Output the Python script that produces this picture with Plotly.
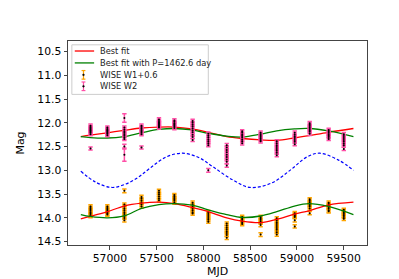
import plotly.graph_objects as go

# ---- observation epochs (MJD) ----
epochs = [56793, 56973, 57155, 57338, 57525, 57690, 57885, 58053,
          58250, 58415, 58612, 58785, 58977, 59137, 59340, 59502]

# ---- WISE W2 magnitudes per epoch ----
w2_mags = [
    [12.06, 12.09, 12.11, 12.13, 12.15, 12.17, 12.19, 12.21, 12.24],
    [12.10, 12.13, 12.15, 12.17, 12.19, 12.21, 12.23, 12.26],
    [12.10, 12.14, 12.18, 12.21, 12.24, 12.27, 12.31, 12.34],
    [12.06, 12.09, 12.12, 12.15, 12.18, 12.21, 12.24],
    [11.93, 11.96, 11.99, 12.01, 12.03, 12.05, 12.08, 12.10],
    [11.95, 11.98, 12.01, 12.03, 12.05, 12.08, 12.11],
    [11.96, 12.00, 12.04, 12.08, 12.12, 12.16, 12.20, 12.25, 12.30, 12.36],
    [12.23, 12.27, 12.31, 12.35, 12.39, 12.43, 12.47],
    [12.47, 12.52, 12.57, 12.62, 12.67, 12.72, 12.77, 12.82, 12.90],
    [12.18, 12.21, 12.25, 12.28, 12.31, 12.35, 12.39, 12.43],
    [12.21, 12.24, 12.27, 12.30, 12.33, 12.36, 12.39],
    [12.39, 12.43, 12.47, 12.51, 12.55, 12.59, 12.63, 12.68],
    [12.21, 12.25, 12.29, 12.32, 12.36, 12.40, 12.45],
    [12.01, 12.04, 12.07, 12.10, 12.13, 12.16, 12.19, 12.23],
    [12.15, 12.18, 12.21, 12.24, 12.27, 12.30, 12.34],
    [12.24, 12.28, 12.32, 12.36, 12.40, 12.44, 12.48, 12.55],
]
w2_err_typ = 0.035
w2_out_mjd = [56793, 57155, 57155, 57155, 57338, 58053]
w2_out_mag = [12.54, 11.90, 12.50, 12.67, 12.52, 13.00]
w2_out_err = [0.03, 0.09, 0.05, 0.14, 0.03, 0.04]

# ---- WISE W1 + 0.6 magnitudes per epoch ----
w1_mags = [
    [13.76, 13.79, 13.82, 13.85, 13.88, 13.91, 13.94, 13.96],
    [13.76, 13.79, 13.82, 13.85, 13.88, 13.91, 13.93],
    [13.72, 13.76, 13.80, 13.84, 13.88, 13.92, 13.96, 14.00, 14.05],
    [13.56, 13.60, 13.64, 13.68, 13.72, 13.76],
    [13.43, 13.47, 13.51, 13.55, 13.59, 13.63],
    [13.52, 13.55, 13.58, 13.61, 13.64, 13.68],
    [13.68, 13.72, 13.76, 13.80, 13.84, 13.88, 13.91],
    [13.88, 13.92, 13.96, 14.00, 14.04, 14.08],
    [14.12, 14.16, 14.20, 14.24, 14.28, 14.32, 14.36, 14.42],
    [13.98, 14.01, 14.04, 14.07, 14.10, 14.13],
    [13.98, 14.01, 14.04, 14.07, 14.10, 14.15],
    [14.01, 14.05, 14.09, 14.13, 14.17, 14.21, 14.25, 14.30, 14.35],
    [13.90, 13.92, 13.94, 13.96, 13.98, 14.05, 14.18],
    [13.61, 13.64, 13.67, 13.70, 13.73, 13.76, 13.80, 13.90],
    [13.68, 13.71, 13.74, 13.77, 13.80, 13.84, 13.86],
    [13.83, 13.86, 13.89, 13.92, 13.95, 13.98, 14.02],
]
w1_err_typ = 0.035
w1_out_mjd = [57155, 58612]
w1_out_mag = [13.43, 14.35]
w1_out_err = [0.04, 0.04]

# ---- model curves ----
curve_mjd = [56689, 56790, 56973, 57152, 57339, 57525, 57690, 57877, 58053,
             58250, 58416, 58613, 58785, 58974, 59129, 59336, 59605]
red_w2 = [12.29, 12.26, 12.21, 12.16, 12.11, 12.09, 12.09, 12.13, 12.20,
          12.29, 12.33, 12.36, 12.37, 12.32, 12.27, 12.20, 12.12]
green_w2 = [12.29, 12.31, 12.32, 12.29, 12.21, 12.14, 12.12, 12.15, 12.22,
            12.28, 12.30, 12.24, 12.17, 12.13, 12.12, 12.17, 12.29]
red_w1 = [14.02, 13.97, 13.87, 13.75, 13.69, 13.67, 13.70, 13.78, 13.87,
          14.00, 14.07, 14.10, 14.03, 13.92, 13.85, 13.73, 13.67]
green_w1 = [13.93, 13.97, 14.00, 13.96, 13.80, 13.72, 13.70, 13.73, 13.83,
            13.93, 13.99, 13.96, 13.87, 13.75, 13.70, 13.76, 13.93]

blue_mjd = [56689, 56850, 57018, 57155, 57300, 57432, 57600, 57776, 57950,
            58105, 58312, 58500, 58726, 58933, 59106, 59244, 59451, 59607]
blue_mag = [13.02, 13.25, 13.36, 13.30, 13.15, 12.95, 12.72, 12.64, 12.73,
            12.93, 13.20, 13.36, 13.27, 12.99, 12.72, 12.64, 12.79, 13.00]

x_ticks = [57000, 57500, 58000, 58500, 59000, 59500]
y_ticks = [10.5, 11.0, 11.5, 12.0, 12.5, 13.0, 13.5, 14.0, 14.5]

legend_labels = ["Best fit", "Best fit with P=1462.6 day", "WISE W1+0.6", "WISE W2"]

W1_COLOR = "#ffa500"
W2_COLOR = "#ff4fa7"

# plot-area geometry in pixels (for the hand-made legend)
FIG_W, FIG_H = 399, 279
ML, MR, MT, MB = 50, 40, 33, 32
PW, PH = FIG_W - ML - MR, FIG_H - MT - MB


def px(xp):
    return (xp - ML) / PW


def py(yp):
    return (FIG_H - MB - yp) / PH


def flatten(ep, mags, err, omjd, omag, oerr):
    xs, ys, es = [], [], []
    for e, ms in zip(ep, mags):
        for m in ms:
            xs.append(e); ys.append(m); es.append(err)
    xs += omjd; ys += omag; es += oerr
    return xs, ys, es


fig = go.Figure()

fig.add_trace(go.Scatter(x=curve_mjd, y=red_w2, mode="lines", line_shape="spline",
                         line=dict(color="red", width=1.3)))
fig.add_trace(go.Scatter(x=curve_mjd, y=green_w2, mode="lines", line_shape="spline",
                         line=dict(color="green", width=1.3)))

w1x, w1y, w1e = flatten(epochs, w1_mags, w1_err_typ, w1_out_mjd, w1_out_mag, w1_out_err)
fig.add_trace(go.Scatter(x=w1x, y=w1y, mode="markers",
                         marker=dict(color="black", size=2),
                         error_y=dict(type="data", array=w1e, color=W1_COLOR,
                                      thickness=1.5, width=2.2)))
w2x, w2y, w2e = flatten(epochs, w2_mags, w2_err_typ, w2_out_mjd, w2_out_mag, w2_out_err)
fig.add_trace(go.Scatter(x=w2x, y=w2y, mode="markers",
                         marker=dict(color="black", size=2),
                         error_y=dict(type="data", array=w2e, color=W2_COLOR,
                                      thickness=1.5, width=2.2)))

fig.add_trace(go.Scatter(x=curve_mjd, y=red_w1, mode="lines", line_shape="spline",
                         line=dict(color="red", width=1.3)))
fig.add_trace(go.Scatter(x=curve_mjd, y=green_w1, mode="lines", line_shape="spline",
                         line=dict(color="green", width=1.3)))
fig.add_trace(go.Scatter(x=blue_mjd, y=blue_mag, mode="lines", line_shape="spline",
                         line=dict(color="blue", width=1.2, dash="3px,2px")))

# ---- hand-made legend (matplotlib-like compact layout) ----
shapes = [dict(type="rect", xref="paper", yref="paper",
               x0=px(54), x1=px(195), y0=py(89), y1=py(37),
               line=dict(color="#cccccc", width=1), fillcolor="rgba(255,255,255,0.8)",
               layer="above")]
row_y = [43.5, 56.0, 68.5, 80.5]
for yy, col in zip(row_y[:2], ["red", "green"]):
    shapes.append(dict(type="line", xref="paper", yref="paper",
                       x0=px(57), x1=px(77), y0=py(yy), y1=py(yy),
                       line=dict(color=col, width=1.3), layer="above"))
for yy, col in zip(row_y[2:], [W1_COLOR, W2_COLOR]):
    shapes.append(dict(type="line", xref="paper", yref="paper",
                       x0=px(66), x1=px(66), y0=py(yy - 4.5), y1=py(yy + 4.5),
                       line=dict(color=col, width=1.2), layer="above"))
    for cap in (yy - 4.5, yy + 4.5):
        shapes.append(dict(type="line", xref="paper", yref="paper",
                           x0=px(64), x1=px(68), y0=py(cap), y1=py(cap),
                           line=dict(color=col, width=1.2), layer="above"))
    shapes.append(dict(type="circle", xref="paper", yref="paper",
                       x0=px(65.1), x1=px(66.9), y0=py(yy + 0.9), y1=py(yy - 0.9),
                       line=dict(color="black", width=0.5), fillcolor="black",
                       layer="above"))

annotations = [dict(text=lab, xref="paper", yref="paper", x=px(81), y=py(yy),
                    xanchor="left", yanchor="middle", showarrow=False,
                    font=dict(size=8.3, color="#222"))
               for lab, yy in zip(legend_labels, row_y)]

axis_common = dict(showline=True, linecolor="#444", linewidth=1, mirror=True,
                   ticks="outside", ticklen=3.5, tickcolor="#444", showgrid=False,
                   zeroline=False, tickfont=dict(size=10.8, color="black"))

fig.update_layout(
    width=FIG_W, height=FIG_H,
    margin=dict(l=ML, r=MR, t=MT, b=MB),
    paper_bgcolor="white", plot_bgcolor="white",
    font=dict(family="DejaVu Sans", color="black"),
    showlegend=False,
    shapes=shapes, annotations=annotations,
    xaxis=dict(range=[56552, 59750], tickvals=x_ticks,
               ticktext=[str(t) for t in x_ticks],
               title=dict(text="MJD", font=dict(size=11), standoff=2), **axis_common),
    yaxis=dict(range=[14.57, 10.28], tickvals=y_ticks,
               ticktext=[f"{t:.1f}" for t in y_ticks],
               title=dict(text="Mag", font=dict(size=11), standoff=10), **axis_common),
)

fig.write_html("out.html")
